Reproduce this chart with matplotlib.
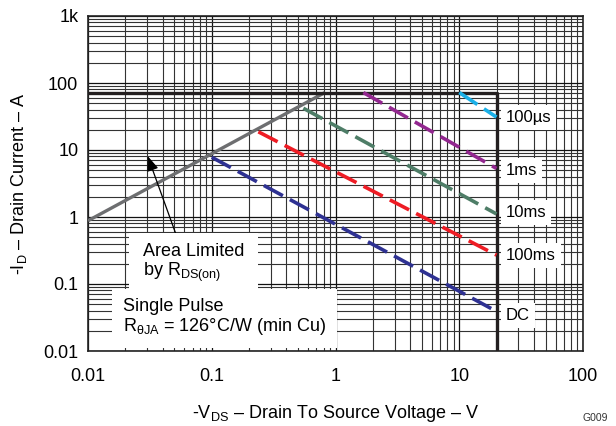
import matplotlib
matplotlib.use("Agg")
import matplotlib.pyplot as plt
from matplotlib.ticker import LogLocator, NullFormatter

plt.rcParams['font.family'] = ['Liberation Sans', 'DejaVu Sans']
plt.rcParams['mathtext.fontset'] = 'custom'
plt.rcParams['mathtext.rm'] = 'Liberation Sans'
plt.rcParams['mathtext.it'] = 'Liberation Sans:italic'
plt.rcParams['mathtext.bf'] = 'Liberation Sans:bold'

# Data
rds_v = [0.01, 0.82]
rds_i = [0.88, 72]
limit_v = [0.01, 20, 20]
limit_i = [72, 72, 0.01]

curve_labels = ["100\u00b5s", "1ms", "10ms", "100ms", "DC"]
curve_v = [[10.0, 20], [1.68, 20], [0.55, 20], [0.238, 20], [0.1, 19.5]]
curve_i = [[72, 31], [72, 5.3], [42, 1.11], [18.7, 0.27], [7.8, 0.04]]
curve_colors = ["#1ab0e8", "#92278f", "#4e7d67", "#ee1c24", "#2e3192"]
label_i = [31, 5.0, 1.15, 0.27, 0.034]

x_ticks = [0.01, 0.1, 1, 10, 100]
x_ticklabels = ["0.01", "0.1", "1", "10", "100"]
y_ticks = [0.01, 0.1, 1, 10, 100, 1000]
y_ticklabels = ["0.01", "0.1", "1", "10", "100", "1k"]

fig = plt.figure(figsize=(6.16, 4.26), dpi=100)
ax = fig.add_axes([88/616, 1-351/426, (583-88)/616, (351-16)/426])
ax.set_xscale('log')
ax.set_yscale('log')
ax.set_xlim(0.01, 100)
ax.set_ylim(0.01, 1000)

ax.xaxis.set_minor_locator(LogLocator(base=10, subs=range(2, 10), numticks=20))
ax.yaxis.set_minor_locator(LogLocator(base=10, subs=range(2, 10), numticks=20))
ax.xaxis.set_minor_formatter(NullFormatter())
ax.yaxis.set_minor_formatter(NullFormatter())
ax.set_xticks(x_ticks)
ax.set_xticklabels(x_ticklabels)
ax.set_yticks(y_ticks)
ax.set_yticklabels(y_ticklabels)
ax.tick_params(which='both', length=0, labelsize=13)
ax.tick_params(axis='x', pad=12)
ax.tick_params(axis='y', pad=7)
ax.grid(True, which='major', color='#111111', lw=0.9)
ax.grid(True, which='minor', color='#333333', lw=0.8)
ax.set_axisbelow(True)
for s in ax.spines.values():
    s.set_linewidth(1.2)
    s.set_color('#222222')

# Limits
ax.plot(rds_v, rds_i, color='#6d6e70', lw=2.4, solid_capstyle='butt', zorder=3)
ax.plot(limit_v, limit_i, color='#231f20', lw=2.4, zorder=3)

# Curves
for lab, v, i, c, li in zip(curve_labels, curve_v, curve_i, curve_colors, label_i):
    ax.plot(v, i, color=c, lw=2.6, linestyle=(0, (6, 2.2)), zorder=4)
    ax.text(23.8, li, lab, fontsize=12, va='center', ha='left', zorder=5,
            bbox=dict(boxstyle='square,pad=0.3', fc='white', ec='none'))

# Annotations
ax.annotate("", xy=(0.0298, 8.9), xytext=(0.0524, 0.5),
            arrowprops=dict(arrowstyle='-|>,head_length=0.9,head_width=0.35', color='black', lw=0.9),
            zorder=6)
ax.text(0.0278, 0.202, "Area Limited\nby R$_{\\mathrm{DS(on)}}$", fontsize=13, va='center', ha='left',
        linespacing=1.1, zorder=6,
        bbox=dict(boxstyle='square,pad=0.75', fc='white', ec='none'))
ax.text(0.0192, 0.0316, "Single Pulse\nR$_{\\mathrm{\u03b8JA}}$ = 126\u00b0C/W (min Cu)", fontsize=13,
        va='center', ha='left', linespacing=1.1, zorder=7,
        bbox=dict(boxstyle='square,pad=0.6', fc='white', ec='none'))

ax.set_ylabel("-I$_{\\mathrm{D}}$ \u2013 Drain Current \u2013 A", fontsize=13, labelpad=10)
ax.set_xlabel("-V$_{\\mathrm{DS}}$ \u2013 Drain To Source Voltage \u2013 V", fontsize=13, labelpad=13)
fig.text(595/616, 1-418/426, "G009", fontsize=7.5, ha='center', va='center', color='#333333')

fig.savefig("out.png", dpi=100)
